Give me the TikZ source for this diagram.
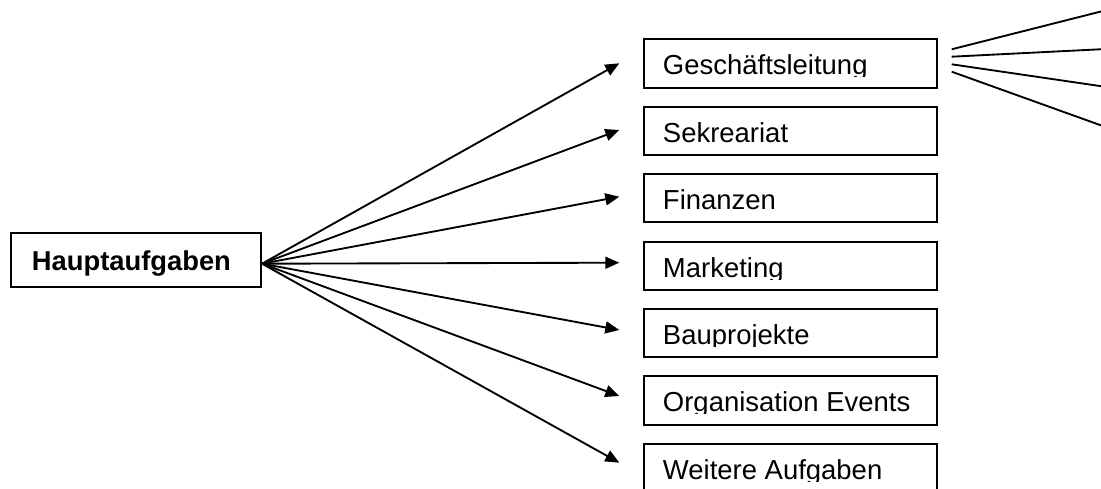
\documentclass[tikz,border=0pt]{standalone}
\usepackage{fontspec}
\setmainfont{Liberation Sans}
\usetikzlibrary{arrows.meta,calc}

% one unit = one pixel of the drawing, y grows downwards
\newcommand\pxlen[1]{#1*0.75pt}

% a task box with left-aligned text that is clipped just below its baseline
\newcommand\taskbox[3]{%
  \node[taskbox] (#1) at (642.7,#2) {};
  \begin{scope}
    \clip ($(#1.north west)+(1,1)$) rectangle ($(#1.north east)+(-1,38.5)$);
    \node[tasktext] (#1-text) at ($(#1.north west)+(20,36.5)$) {#3};
  \end{scope}}

\begin{document}
\begin{tikzpicture}[x=0.75pt,y=-0.75pt,
  frame/.style={draw=black, line width=1.5pt, inner sep=0pt, anchor=north west},
  taskbox/.style={frame, minimum width=\pxlen{293.3}, minimum height=\pxlen{48.5}},
  mainbox/.style={frame, minimum width=\pxlen{250}, minimum height=\pxlen{54}},
  tasktext/.style={anchor=base west, inner sep=0pt, font=\fontsize{20.6pt}{24pt}\selectfont},
  maintext/.style={anchor=base west, inner sep=0pt, font=\fontsize{20.5pt}{24pt}\selectfont\bfseries},
  arrowline/.style={line width=1.4pt, -{Triangle[length=10.5pt, width=9pt]}},
  fanline/.style={line width=1.4pt}]

\useasboundingbox (0,0) rectangle (1101,489);
\fill[white] (0,0) rectangle (1101,489);

% main task
\node[mainbox] (haupt) at (10,231.7) {};
\node[maintext] (haupt-text) at (31.7,270) {Hauptaufgaben};

% sub-tasks
\taskbox{gl}{38.3}{Geschäftsleitung}
\taskbox{sek}{105.5}{Sekreariat}
\taskbox{fin}{172.7}{Finanzen}
\taskbox{mkt}{240.5}{Marketing}
\taskbox{bau}{307.5}{Bauprojekte}
\taskbox{org}{375}{Organisation Events}
\taskbox{wei}{442.7}{Weitere Aufgaben}

% arrow tips in front of each box
\coordinate (src) at ($(haupt.east)+(0,4)$);
\coordinate (a-gl)  at (619.3,63.3);
\coordinate (a-sek) at (619.3,130);
\coordinate (a-fin) at (619.3,196.7);
\coordinate (a-mkt) at (619.3,262.7);
\coordinate (a-bau) at (619.3,330);
\coordinate (a-org) at (619.3,396);
\coordinate (a-wei) at (619.3,462.7);

\foreach \t in {gl,sek,fin,mkt,bau,org,wei}
  \draw[arrowline] (src) -- (a-\t);

% branches leaving the management box to the right
\coordinate (f1s) at (951.7,49.3);  \coordinate (f1e) at (1110,9.2);
\coordinate (f2s) at (951.7,56.7);  \coordinate (f2e) at (1110,48.8);
\coordinate (f3s) at (951.7,64.3);  \coordinate (f3e) at (1110,87.5);
\coordinate (f4s) at (951.7,71.7);  \coordinate (f4e) at (1110,128.6);
\foreach \i in {1,2,3,4}
  \draw[fanline] (f\i s) -- (f\i e);

\end{tikzpicture}
\end{document}
